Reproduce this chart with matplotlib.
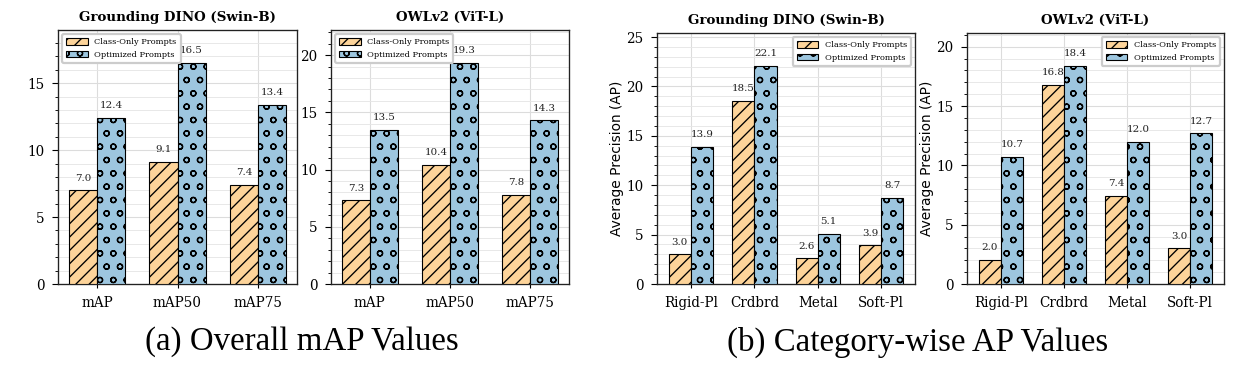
import numpy as np
import matplotlib
matplotlib.use('Agg')
import matplotlib.pyplot as plt
from matplotlib.ticker import MultipleLocator

# values
metrics = ['mAP', 'mAP50', 'mAP75']
gdino_class_map = [7.0, 9.1, 7.4]
gdino_opt_map = [12.4, 16.5, 13.4]
owl_class_map = [7.3, 10.4, 7.8]
owl_opt_map = [13.5, 19.3, 14.3]

materials = ['Rigid-Pl', 'Crdbrd', 'Metal', 'Soft-Pl']
gdino_class_ap = [3.0, 18.5, 2.6, 3.9]
gdino_opt_ap = [13.9, 22.1, 5.1, 8.7]
owl_class_ap = [2.0, 16.8, 7.4, 3.0]
owl_opt_ap = [10.7, 18.4, 12.0, 12.7]

series_names = ['Class-Only Prompts', 'Optimized Prompts']
orange = '#fdd49a'
blue = '#9dc6df'

plt.rcParams['font.family'] = 'DejaVu Serif'
plt.rcParams['hatch.linewidth'] = 0.6

dpi = 160
fig = plt.figure(figsize=(1247/dpi, 373/dpi), dpi=dpi)

def draw_panel(rect, cats, class_vals, opt_vals, title, legend_loc, ylabel=None):
    ax = fig.add_axes(rect)
    x = np.arange(len(cats))
    w = 0.35
    b1 = ax.bar(x - w/2, class_vals, w, color=orange, edgecolor='black',
                linewidth=0.5, hatch='////', label=series_names[0], zorder=3)
    b2 = ax.bar(x + w/2, opt_vals, w, color=blue, edgecolor='black',
                linewidth=0.5, hatch='oo', label=series_names[1], zorder=3)
    for bars in (b1, b2):
        for r in bars:
            h = r.get_height()
            ax.annotate(f'{h:.1f}', (r.get_x() + r.get_width()/2, h),
                        xytext=(0, 3.5), textcoords='offset points',
                        ha='center', va='bottom', fontsize=4.6, color='#222222')
    ax.set_ylim(0, max(max(class_vals), max(opt_vals)) * 1.15)
    ax.set_xticks(x)
    ax.set_xticklabels(cats, fontsize=6.1)
    ax.yaxis.set_major_locator(MultipleLocator(5))
    ax.yaxis.set_minor_locator(MultipleLocator(1))
    ax.tick_params(axis='y', labelsize=6.1, length=2.5, width=0.5)
    ax.tick_params(axis='y', which='minor', length=1.5, width=0.4)
    ax.tick_params(axis='x', length=2, width=0.5)
    ax.grid(True, which='major', color='#dcdcdc', linewidth=0.5, zorder=0)
    ax.grid(True, which='minor', axis='y', color='#e6e6e6', linewidth=0.4, zorder=0)
    ax.set_axisbelow(True)
    for s in ax.spines.values():
        s.set_linewidth(0.6)
        s.set_color('#222222')
    ax.set_title(title, fontsize=6.0, fontweight='bold', pad=4)
    if ylabel:
        ax.set_ylabel(ylabel, fontsize=6.2, family='DejaVu Sans', labelpad=1)
    ax.legend(loc=legend_loc, fontsize=3.7, handlelength=2.6, handleheight=0.9,
              borderpad=0.5, labelspacing=0.5, framealpha=1, edgecolor='#cccccc')
    return ax

draw_panel([0.0465, 0.2386, 0.1917, 0.681], metrics, gdino_class_map, gdino_opt_map,
           'Grounding DINO (Swin-B)', 'upper left')
draw_panel([0.2654, 0.2386, 0.1909, 0.681], metrics, owl_class_map, owl_opt_map,
           'OWLv2 (ViT-L)', 'upper left')
draw_panel([0.5269, 0.2386, 0.2069, 0.673], materials, gdino_class_ap, gdino_opt_ap,
           'Grounding DINO (Swin-B)', 'upper right', 'Average Precision (AP)')
draw_panel([0.7755, 0.2386, 0.2061, 0.673], materials, owl_class_ap, owl_opt_ap,
           'OWLv2 (ViT-L)', 'upper right', 'Average Precision (AP)')

fig.text(0.242, 0.083, '(a) Overall mAP Values', ha='center', va='center',
         fontsize=14.8, family='Liberation Serif')
fig.text(0.736, 0.083, '(b) Category-wise AP Values', ha='center', va='center',
         fontsize=14.8, family='Liberation Serif')

fig.savefig('out.png', dpi=dpi)
